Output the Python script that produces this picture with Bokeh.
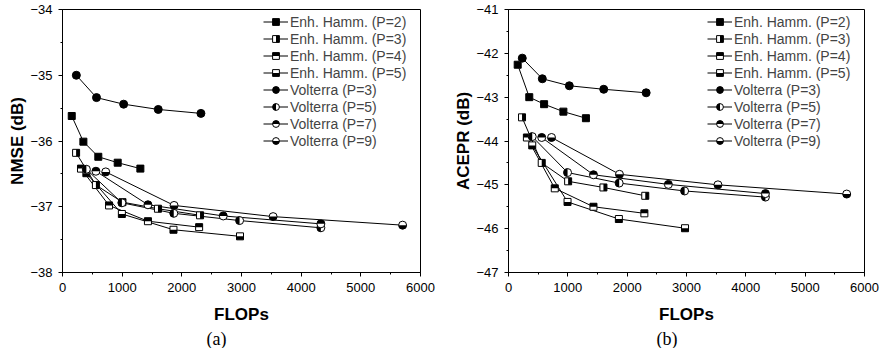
from bokeh.plotting import figure
from bokeh.models import Range1d, SingleIntervalTicker, Legend, LegendItem, Title, CustomJS
from bokeh.layouts import row
from bokeh.embed import file_html
from bokeh.resources import INLINE

# ---------------- data ----------------
series_labels = ["Enh. Hamm. (P=2)", "Enh. Hamm. (P=3)", "Enh. Hamm. (P=4)", "Enh. Hamm. (P=5)",
                 "Volterra (P=3)", "Volterra (P=5)", "Volterra (P=7)", "Volterra (P=9)"]

flops_eh2 = [155, 350, 600, 925, 1305]
flops_eh3 = [228, 560, 1005, 1600, 2305]
flops_eh4 = [310, 780, 1432, 2290]
flops_eh5 = [400, 995, 1860, 2975]
flops_v3 = [232, 570, 1025, 1605, 2320]
flops_v5 = [400, 995, 1865, 2968, 4330]
flops_v7 = [560, 1432, 2694, 4330]
flops_v9 = [725, 1870, 3530, 5700]

nmse_eh2 = [-35.62, -36.01, -36.24, -36.33, -36.42]
nmse_eh3 = [-36.18, -36.67, -36.93, -37.03, -37.13]
nmse_eh4 = [-36.42, -36.98, -37.22, -37.31]
nmse_eh5 = [-36.49, -37.11, -37.35, -37.45]
nmse_v3 = [-35.00, -35.34, -35.44, -35.52, -35.58]
nmse_v5 = [-36.43, -36.94, -37.10, -37.21, -37.32]
nmse_v7 = [-36.46, -36.97, -37.14, -37.26]
nmse_v9 = [-36.47, -36.98, -37.15, -37.28]

acepr_eh2 = [-42.26, -43.00, -43.16, -43.33, -43.48]
acepr_eh3 = [-43.46, -44.50, -44.92, -45.06, -45.25]
acepr_eh4 = [-43.92, -45.08, -45.50, -45.65]
acepr_eh5 = [-44.10, -45.39, -45.78, -45.99]
acepr_v3 = [-42.11, -42.58, -42.74, -42.82, -42.90]
acepr_v5 = [-43.90, -44.72, -44.96, -45.14, -45.28]
acepr_v7 = [-43.92, -44.77, -44.99, -45.20]
acepr_v9 = [-43.92, -44.76, -45.00, -45.21]

flops_all = [flops_eh2, flops_eh3, flops_eh4, flops_eh5, flops_v3, flops_v5, flops_v7, flops_v9]
nmse_all = [nmse_eh2, nmse_eh3, nmse_eh4, nmse_eh5, nmse_v3, nmse_v5, nmse_v7, nmse_v9]
acepr_all = [acepr_eh2, acepr_eh3, acepr_eh4, acepr_eh5, acepr_v3, acepr_v5, acepr_v7, acepr_v9]

# marker style per series: (shape, which part is black)
marker_styles = [("square", "full"), ("square", "right"), ("square", "top"), ("square", "bottom"),
                 ("circle", "full"), ("circle", "left"), ("circle", "top"), ("circle", "bottom")]

JS = """
let ctx = null, r = null;
const nums = [];
for (let k = 0; k < arguments.length; k++) {
  const a = arguments[k];
  if (a == null) continue;
  if (typeof a === "object") {
    if (ctx == null && a.ctx != null && typeof a.ctx === "object") { ctx = a.ctx; if (typeof a.r === "number") r = a.r; }
    else if (ctx == null && typeof a.arc === "function" && typeof a.fill === "function") { ctx = a; }
  } else if (typeof a === "number") { nums.push(a); }
}
if (ctx == null) return;
if (r == null) r = nums.length >= 2 ? nums[1] : (nums.length == 1 ? nums[0] : 4);
const outline = () => {
  ctx.beginPath();
  if (shape === "square") ctx.rect(-r, -r, 2*r, 2*r); else ctx.arc(0, 0, r, 0, 2*Math.PI);
};
ctx.save();
outline(); ctx.fillStyle = "white"; ctx.fill();
ctx.beginPath();
if (shape === "square") {
  if (kind === "full") ctx.rect(-r, -r, 2*r, 2*r);
  else if (kind === "right") ctx.rect(0, -r, r, 2*r);
  else if (kind === "top") ctx.rect(-r, -r, 2*r, r);
  else if (kind === "bottom") ctx.rect(-r, 0, 2*r, r);
} else {
  if (kind === "full") ctx.arc(0, 0, r, 0, 2*Math.PI);
  else if (kind === "left") { ctx.moveTo(0, -r); ctx.arc(0, 0, r, -Math.PI/2, Math.PI/2, true); ctx.closePath(); }
  else if (kind === "top") { ctx.moveTo(-r, 0); ctx.arc(0, 0, r, Math.PI, 2*Math.PI, false); ctx.closePath(); }
  else if (kind === "bottom") { ctx.moveTo(r, 0); ctx.arc(0, 0, r, 0, Math.PI, false); ctx.closePath(); }
}
ctx.fillStyle = "black"; ctx.fill();
outline(); ctx.lineWidth = 1; ctx.strokeStyle = "black"; ctx.stroke();
ctx.restore();
ctx.beginPath();
"""


def make_panel(ys_all, y0, y1, ylabel, caption, border_left, frame_w, cap_offset):
    p = figure(frame_width=frame_w, frame_height=263,
               min_border_left=border_left, min_border_right=16, min_border_top=9, min_border_bottom=76,
               x_range=Range1d(0, 6000), y_range=Range1d(y0, y1),
               output_backend="svg", toolbar_location=None)
    p.grid.visible = False
    p.outline_line_color = "black"
    p.outline_line_width = 1
    p.background_fill_color = "white"
    p.border_fill_color = "white"

    p.xaxis.ticker = SingleIntervalTicker(interval=1000, num_minor_ticks=2)
    p.yaxis.ticker = SingleIntervalTicker(interval=1, num_minor_ticks=2)
    for ax in (p.xaxis[0], p.yaxis[0]):
        ax.axis_line_color = "black"
        ax.major_tick_line_color = "black"
        ax.minor_tick_line_color = "black"
        ax.major_tick_in = 0
        ax.major_tick_out = 4
        ax.minor_tick_in = 0
        ax.minor_tick_out = 2
        ax.major_label_text_font = "Liberation Sans"
        ax.major_label_text_font_size = "13px"
        ax.major_label_text_color = "black"
        ax.axis_label_text_font = "Liberation Sans"
        ax.axis_label_text_font_style = "bold"
        ax.axis_label_text_font_size = "17px"
        ax.axis_label_text_color = "black"
    p.xaxis.axis_label = "FLOPs"
    p.yaxis.axis_label = ylabel
    p.xaxis.major_label_standoff = 6
    p.xaxis.axis_label_standoff = 10
    p.yaxis.major_label_standoff = 6
    p.yaxis.axis_label_standoff = 0

    line_rs = []
    for xs, ys in zip(flops_all, ys_all):
        line_rs.append(p.line(xs, ys, line_color="black", line_width=1))
    items = []
    for k, (xs, ys) in enumerate(zip(flops_all, ys_all)):
        shape, kind = marker_styles[k]
        name = "@" + shape + "_" + kind
        sz = 7 if shape == "square" else 8
        sr = p.scatter(xs, ys, marker=name, size=sz,
                       defs={name: CustomJS(args=dict(shape=shape, kind=kind), code=JS)},
                       fill_color="white", line_color="black")
        items.append(LegendItem(label=series_labels[k], renderers=[line_rs[k], sr]))

    legend = Legend(items=items, location="top_right", padding=0, margin=4, spacing=0,
                    glyph_width=25, glyph_height=17, label_height=17, label_width=126,
                    label_standoff=2,
                    label_text_font="Liberation Sans", label_text_font_size="14px",
                    border_line_alpha=0, background_fill_alpha=0)
    p.add_layout(legend, "center")

    p.add_layout(Title(text=caption, align="left", offset=cap_offset, standoff=0,
                       text_font="Liberation Serif", text_font_style="normal",
                       text_font_size="18px", text_color="black"), "below")
    return p


p1 = make_panel(nmse_all, -38, -34, "NMSE (dB)", "(a)", 62, 358, 144)
p2 = make_panel(acepr_all, -47, -41, "ACEPR (dB)", "(b)", 72, 356, 148)

layout = row(p1, p2)
open("out.html", "w").write(file_html(layout, INLINE))
